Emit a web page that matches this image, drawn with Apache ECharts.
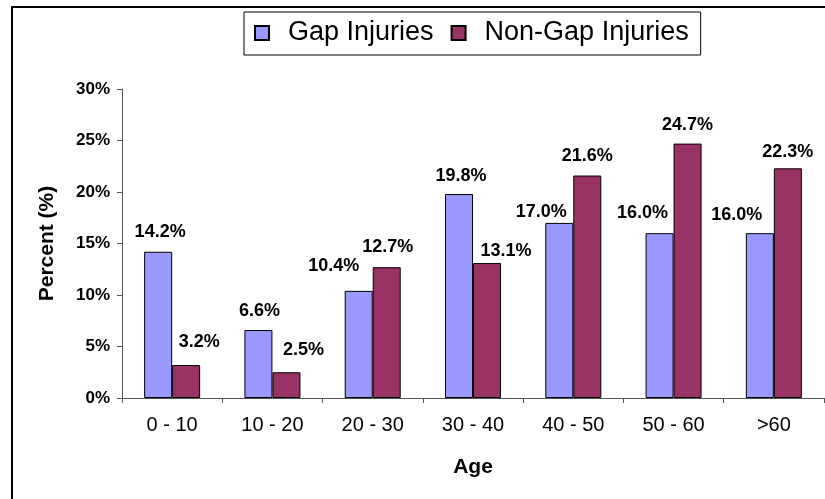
<!DOCTYPE html>
<html>
<head>
<meta charset="utf-8">
<script src="https://cdn.jsdelivr.net/npm/echarts@6/dist/echarts.min.js"></script>
<style>
  html, body { margin: 0; padding: 0; background: #fff; }
  #chart { width: 825px; height: 499px; }
</style>
</head>
<body>
<div id="chart"></div>
<script>
// 연령대 구간
const ageGroups = ["0 - 10", "10 - 20", "20 - 30", "30 - 40", "40 - 50", "50 - 60", ">60"];
// 값 (%)
const gapInjuries = [14.2, 6.6, 10.4, 19.8, 17.0, 16.0, 16.0];
const nonGapInjuries = [3.2, 2.5, 12.7, 13.1, 21.6, 24.7, 22.3];
const yTicks = [0, 5, 10, 15, 20, 25, 30];

// 원본에서 라벨 위치가 손으로 옮겨져 있어서 맞춰줌 [dx, dy]
const gapLabelNudge = [[2, -1], [1, 0], [-25, -6], [2, 1], [-18, 8], [-17, -1], [-23, 1]];
const nonGapLabelNudge = [[13, -4], [17, -3], [1, -1], [19, 7], [0, 0], [0, 0], [0, 3]];

const font = "'Liberation Sans', Arial, sans-serif";

const chart = echarts.init(document.getElementById("chart"));

const toItems = (values, nudge) =>
  values.map((v, i) => ({ value: v, label: { offset: nudge[i] } }));

const barLabel = {
  show: true,
  position: "top",
  distance: 10,
  color: "#000",
  fontFamily: font,
  fontSize: 18,
  fontWeight: "bold",
  formatter: (p) => p.value.toFixed(1) + "%",
};

chart.setOption({
  animation: false,
  textStyle: { fontFamily: font },
  graphic: [
    {
      type: "rect",
      shape: { x: 12, y: 7, width: 900, height: 600 },
      style: { fill: "none", stroke: "#000", lineWidth: 2 },
      silent: true,
    },
  ],
  legend: {
    left: 244,
    top: 12,
    padding: [6, 12, 7, 10],
    itemGap: 17,
    itemWidth: 14,
    itemHeight: 14,
    icon: "rect",
    borderColor: "#000",
    borderWidth: 1,
    backgroundColor: "#fff",
    textStyle: {
      fontFamily: font,
      fontSize: 27,
      color: "#000",
      padding: [0, 0, 0, 14],
      lineHeight: 30,
    },
    data: ["Gap Injuries", "Non-Gap Injuries"],
  },
  grid: {
    left: 122,
    right: 1,
    top: 89,
    bottom: 101,
    containLabel: false,
  },
  xAxis: {
    type: "category",
    data: ageGroups,
    name: "Age",
    nameLocation: "middle",
    nameGap: 59,
    nameTextStyle: { fontFamily: font, fontSize: 21, fontWeight: "bold", color: "#000" },
    axisLine: { lineStyle: { color: "#555", width: 1 } },
    axisTick: { show: true, length: 5, lineStyle: { color: "#555" } },
    axisLabel: { color: "#000", fontFamily: font, fontSize: 20, margin: 17 },
  },
  yAxis: {
    type: "value",
    min: yTicks[0],
    max: yTicks[yTicks.length - 1],
    interval: yTicks[1] - yTicks[0],
    name: "Percent (%)",
    nameLocation: "middle",
    nameGap: 64,
    nameTextStyle: { fontFamily: font, fontSize: 21, fontWeight: "bold", color: "#000" },
    axisLine: { show: true, lineStyle: { color: "#555", width: 1 } },
    axisTick: { show: true, length: 5, lineStyle: { color: "#555" } },
    splitLine: { show: false },
    axisLabel: {
      color: "#000",
      fontFamily: font,
      fontSize: 17,
      fontWeight: "bold",
      margin: 12,
      formatter: "{value}%",
    },
  },
  series: [
    {
      name: "Gap Injuries",
      type: "bar",
      data: toItems(gapInjuries, gapLabelNudge),
      barWidth: 28,
      barGap: "0%",
      itemStyle: { color: "#9999FF", borderColor: "#000", borderWidth: 1 },
      label: barLabel,
    },
    {
      name: "Non-Gap Injuries",
      type: "bar",
      data: toItems(nonGapInjuries, nonGapLabelNudge),
      barWidth: 28,
      barGap: "0%",
      itemStyle: { color: "#993366", borderColor: "#000", borderWidth: 1 },
      label: barLabel,
    },
  ],
});
</script>
</body>
</html>
